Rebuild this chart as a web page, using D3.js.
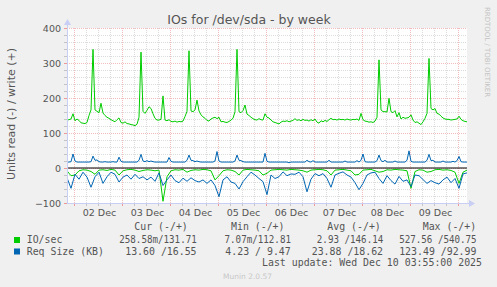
<!DOCTYPE html>
<html><head><meta charset="utf-8">
<script src="https://cdn.jsdelivr.net/npm/d3@7"></script>
<style>body{margin:0;background:#f0f0f0}svg{display:block}text{white-space:pre}</style>
</head><body><svg id="c" width="497" height="287"></svg>
<script>
// ---- data ----
const startTime = Date.UTC(2025, 11, 1, 20, 30); // 1 Dec 20:30 UTC
const spanHours = 200;
// write IO/sec (hourly)
const writeIO = [137,138,140,155,135,140,136,129,128,127,
130,150,166,339,166,162,158,185,157,150,
145,142,138,135,132,138,143,130,128,132,
127,126,124,123,121,125,145,331,162,156,
165,175,170,155,142,137,137,139,206,137,
135,138,133,132,134,131,133,132,134,147,
162,335,163,161,166,194,163,152,146,142,
136,134,140,143,145,141,145,132,133,131,
130,133,137,142,161,339,161,158,164,180,
154,150,145,141,138,137,141,138,137,155,
145,143,137,132,130,128,126,131,134,133,
135,132,134,136,141,136,138,135,139,136,
137,134,138,135,140,131,128,135,132,136,
133,138,142,138,139,137,140,138,139,137,
140,138,137,139,138,140,136,156,138,134,
133,131,132,130,134,145,309,166,161,161,
160,199,161,158,164,146,158,140,145,142,
143,145,152,137,130,132,128,124,132,142,
156,313,170,166,170,156,154,148,143,140,
139,139,137,138,139,140,148,139,135,133,132];
// write request size KB (hourly)
const writeReq = [17,17,18,40,20,17,17,17,17,17,
17,17,18,34,22,23,18,17,17,18,
17,17,17,18,17,17,31,19,17,17,
17,17,17,17,17,17,22,39,20,18,
21,18,20,18,17,17,17,17,17,17,
17,30,19,17,17,17,17,17,17,17,
22,37,22,21,18,20,18,17,17,17,
17,17,17,17,20,47,20,17,17,17,
17,17,17,17,20,37,22,21,18,17,
17,17,17,17,17,17,17,17,17,42,
19,17,17,17,17,17,17,17,17,17,
17,15,17,17,17,17,17,17,17,17,
22,18,17,21,17,17,17,17,17,17,
17,22,17,17,17,17,17,17,17,20,
17,17,17,17,17,21,17,22,40,18,
17,17,17,17,17,21,37,21,18,22,
17,17,17,17,20,17,17,17,17,17,
22,49,19,17,17,17,17,17,17,17,
22,39,21,22,17,17,17,17,20,17,
17,17,17,19,17,21,33,18,17,17,17];
// read IO/sec (every 2 hours, drawn below zero)
const readIO = [8,22,20,8,5,6,10,18,6,5,
7,4,6,20,8,5,4,6,10,7,
5,6,8,6,95,25,8,5,6,4,
12,7,5,6,4,5,8,34,22,8,
5,6,10,20,6,4,5,6,8,20,
15,6,5,4,5,6,4,5,6,8,
12,6,5,4,5,8,20,6,5,4,
6,8,20,18,6,5,4,8,12,10,
5,6,4,5,6,8,58,10,5,6,
12,10,5,4,6,5,7,12,44,12,6];
// read request size KB (every 2 hours, drawn below zero)
const readReq = [28,58,18,32,12,26,55,25,12,44,
25,12,18,40,26,20,32,18,30,25,
34,26,38,14,50,34,20,36,42,29,
38,28,36,40,34,44,34,50,82,34,
25,40,44,60,39,25,12,20,30,39,
76,20,30,25,11,22,17,18,12,25,
68,32,16,22,16,30,55,20,15,11,
20,26,42,62,44,20,14,12,30,44,
22,36,46,24,38,34,53,20,22,33,
44,36,42,46,34,26,42,30,58,17,14];

const yTickValues = [-100, 0, 100, 200, 300, 400];
const seriesNames = ["IO/sec", "Req Size (KB)"];
const seriesColors = ["#00cc00", "#0066b3"];
const legendHeaders = ["Cur (-/+)", "Min (-/+)", "Avg (-/+)", "Max (-/+)"];
const curNeg = ["258.58m", " 13.60 "], curPos = ["131.71", " 16.55"];
const minNeg = ["  7.07m", "  4.23 "], minPos = ["112.81", "  9.47"];
const avgNeg = ["  2.93 ", " 23.88 "], avgPos = ["146.14", " 18.62"];
const maxNeg = ["527.56 ", "123.49 "], maxPos = ["540.75", " 92.99"];
const titleText = "IOs for /dev/sda - by week";
const yLabelText = "Units read (-) / write (+)";
const lastUpdate = "Last update: Wed Dec 10 03:55:00 2025";
const muninVer = "Munin 2.0.57";
const sideText = "RRDTOOL / TOBI OETIKER";

// ---- drawing ----
const svg = d3.select("#c");
const L = 67, R = 467, T = 28, B = 203;
const HOUR = 3600e3;
const x = d3.scaleUtc().domain([new Date(startTime), new Date(startTime + spanHours*HOUR)]).range([L, R]);
const y = d3.scaleLinear().domain([-100, 400]).range([B, T]);
const font = "DejaVu Sans, sans-serif", mono = "DejaVu Sans Mono, monospace";
const txt = "#555";

svg.append("rect").attr("width",497).attr("height",287).attr("fill","#f0f0f0");
svg.append("rect").attr("x",L).attr("y",T).attr("width",R-L).attr("height",B-T).attr("fill","#fff");

// grid
const g = svg.append("g").attr("shape-rendering","crispEdges");
const minorC = "#dcdcdc", majorC = "#f4bcbc";
const hours6 = d3.utcHour.every(6).range(x.domain()[0], x.domain()[1]);
hours6.forEach(d => {
  const major = d.getUTCHours() === 0;
  const xx = Math.round(x(d)) + 0.5;
  g.append("line").attr("x1",xx).attr("x2",xx).attr("y1",T).attr("y2",B)
   .attr("stroke", major ? majorC : minorC).attr("stroke-dasharray","1,1");
  g.append("line").attr("x1",xx).attr("x2",xx).attr("y1",B).attr("y2",B+3)
   .attr("stroke", major ? "#ee9999" : "#c4c4c4");
});
d3.range(-100, 401, 20).forEach(v => {
  const major = v % 100 === 0;
  const yy = Math.round(y(v)) + 0.5;
  g.append("line").attr("x1",L).attr("x2",R).attr("y1",yy).attr("y2",yy)
   .attr("stroke", major ? majorC : minorC).attr("stroke-dasharray","1,1");
  g.append("line").attr("x1",L-3).attr("x2",L).attr("y1",yy).attr("y2",yy)
   .attr("stroke", major ? "#ee9999" : "#c4c4c4");
});

// lines
svg.append("clipPath").attr("id","pc").append("rect")
  .attr("x",L).attr("y",T-2).attr("width",R-L).attr("height",B-T+4);
const plotG = svg.append("g").attr("clip-path","url(#pc)");
function pts(arr, step, sign){ return arr.map((v,i)=>({t:new Date(startTime + i*step*HOUR), v:sign*v})); }
const line = d3.line().x(d=>x(d.t)).y(d=>y(d.v));
plotG.append("path").datum(pts(readIO,2,-1)).attr("d",line).attr("fill","none").attr("stroke",seriesColors[0]).attr("stroke-width",1);
plotG.append("path").datum(pts(writeIO,1,1)).attr("d",line).attr("fill","none").attr("stroke",seriesColors[0]).attr("stroke-width",1);
plotG.append("path").datum(pts(readReq,2,-1)).attr("d",line).attr("fill","none").attr("stroke",seriesColors[1]).attr("stroke-width",1);
plotG.append("path").datum(pts(writeReq,1,1)).attr("d",line).attr("fill","none").attr("stroke",seriesColors[1]).attr("stroke-width",1);
// zero line
svg.append("line").attr("x1",L).attr("x2",R).attr("y1",y(0)).attr("y2",y(0)).attr("stroke","#000").attr("stroke-width",1.2);

// axes lines and arrows
const axC = "#c8cef4";
svg.append("line").attr("x1",L+0.5).attr("x2",L+0.5).attr("y1",T-4).attr("y2",B).attr("stroke",axC);
svg.append("line").attr("x1",L).attr("x2",R+4).attr("y1",B+0.5).attr("y2",B+0.5).attr("stroke",axC);
svg.append("path").attr("d",`M${L-3},${T-3}L${L+0.5},${T-9}L${L+4},${T-3}Z`).attr("fill",axC);
svg.append("path").attr("d",`M${R+2},${B-3}L${R+8},${B+0.5}L${R+2},${B+4}Z`).attr("fill",axC);

// y axis labels
const ya = svg.append("g").attr("transform",`translate(${L-4},0)`)
  .call(d3.axisLeft(y).tickValues(yTickValues).tickSize(0).tickPadding(2).tickFormat(d3.format("d")));
ya.select(".domain").remove();
ya.selectAll("text").attr("font-family",font).attr("font-size","9.5px").attr("fill",txt);

// x axis day labels at noon
const noons = d3.utcDay.range(x.domain()[0], x.domain()[1]).map(d=>new Date(+d + 12*HOUR)).filter(d=>d < x.domain()[1]);
const xa = svg.append("g").attr("transform",`translate(1,${B+3})`)
  .call(d3.axisBottom(x).tickValues(noons).tickSize(0).tickPadding(3).tickFormat(d3.utcFormat("%d %b")));
xa.select(".domain").remove();
xa.selectAll("text").attr("font-family",font).attr("font-size","9.5px").attr("fill",txt);

// title & labels
svg.append("text").attr("x",249).attr("y",24).attr("text-anchor","middle")
  .attr("font-family",font).attr("font-size","12.5px").attr("fill",txt).text(titleText);
svg.append("text").attr("transform","translate(15,114) rotate(-90)").attr("text-anchor","middle")
  .attr("font-family",font).attr("font-size","11px").attr("fill",txt).text(yLabelText);
svg.append("text").attr("transform","translate(485,52) rotate(90)").attr("text-anchor","middle")
  .attr("font-family",font).attr("font-size","7px").attr("fill","#c4c4c4").text(sideText);

// legend
const cw = 5.96, fs = "9.9px";
const headerX = [134.3, 231, 327.3, 422.7];
const slashX = [161, 255.2, 347.5, 440.9];
legendHeaders.forEach((h,i)=> svg.append("text").attr("x",headerX[i]).attr("y",230)
  .attr("font-family",mono).attr("font-size",fs).attr("fill",txt).text(h));
const cols = [[curNeg,curPos],[minNeg,minPos],[avgNeg,avgPos],[maxNeg,maxPos]];
const rowY = [243, 254.5];
seriesNames.forEach((n,r)=>{
  svg.append("rect").attr("x",14).attr("y",rowY[r]-6).attr("width",6).attr("height",6).attr("fill",seriesColors[r]);
  svg.append("text").attr("x",26.7).attr("y",rowY[r]).attr("font-family",mono).attr("font-size",fs).attr("fill",txt).text(n);
  cols.forEach((c,i)=>{
    const pos = c[1][r];
    const s = c[0][r] + "/" + (pos[0] === " " ? pos.slice(1) : pos);
    const t = svg.append("text").attr("x",slashX[i]-7*cw).attr("y",rowY[r])
      .attr("font-family",mono).attr("font-size",fs).attr("fill",txt).text(s);
    if (s.length > 13) t.attr("textLength", 13*cw).attr("lengthAdjust","spacingAndGlyphs");
  });
});
svg.append("text").attr("x",482).attr("y",266).attr("text-anchor","end")
  .attr("font-family",mono).attr("font-size",fs).attr("fill",txt).text(lastUpdate);
svg.append("text").attr("x",223).attr("y",279)
  .attr("font-family",font).attr("font-size","7.5px").attr("fill","#c8c8c8").text(muninVer);
</script></body></html>
